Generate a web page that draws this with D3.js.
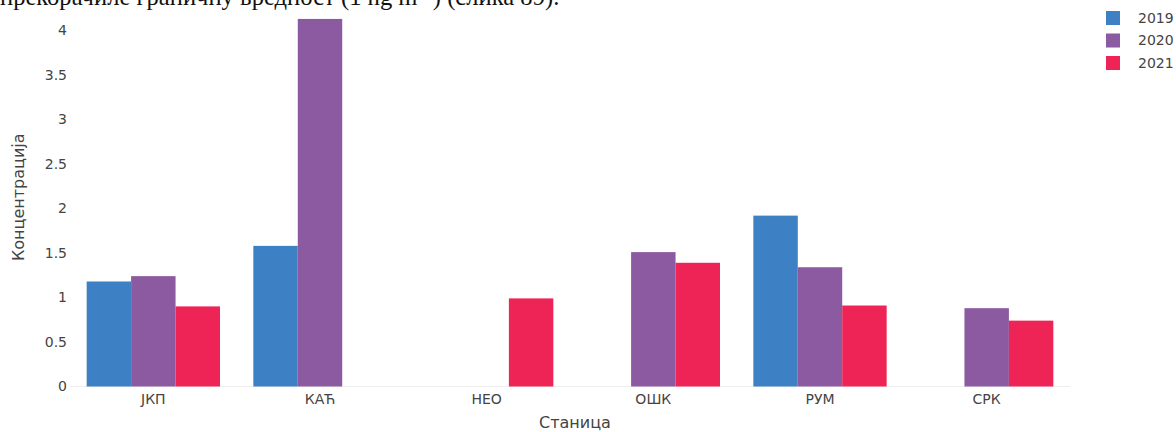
<!DOCTYPE html>
<meta charset="utf-8">
<style>
  body { margin: 0; background: white; }
  .tick text { font-family: "DejaVu Sans", sans-serif; font-size: 14px; fill: #444; }
  .axis-title { font-family: "DejaVu Sans", sans-serif; font-size: 16px; fill: #444; }
  .legend text { font-family: "DejaVu Sans", sans-serif; font-size: 14px; fill: #444; }
  .doc-text { font-family: "Liberation Serif", serif; font-size: 24.6px; fill: #111; }
</style>
<script src="https://d3js.org/d3.v7.min.js"></script>
<div id="my_dataviz"></div>
<script>

// data
const stations = ["ЈКП", "КАЋ", "НЕО", "ОШК", "РУМ", "СРК"];
const years = ["2019", "2020", "2021"];
const colors = ["#3d81c4", "#8b5aa0", "#ee2457"];
const v2019 = [1.18, 1.58, null, null, 1.92, null];
const v2020 = [1.24, 4.13, null, 1.51, 1.34, 0.88];
const v2021 = [0.90, null, 0.99, 1.39, 0.91, 0.74];
const yTicks = [0, 0.5, 1, 1.5, 2, 2.5, 3, 3.5, 4];

const series = [v2019, v2020, v2021];

const W = 1176, H = 432;
const margin = {top: 30, right: 106, bottom: 45.5, left: 70};
const width = W - margin.left - margin.right,
      height = H - margin.top - margin.bottom;

const root = d3.select("#my_dataviz")
  .append("svg")
    .attr("width", W)
    .attr("height", H);

// cut-off line of text from the document above the chart
root.append("text")
  .attr("class", "doc-text")
  .attr("x", 0)
  .attr("y", 5)
  .text("прекорачиле граничну вредност (1 ng m⁻³) (слика 89).");

const svg = root.append("g")
  .attr("transform", `translate(${margin.left},${margin.top})`);

const x = d3.scaleBand()
  .domain(stations)
  .range([0, width])
  .paddingInner(0.2)
  .paddingOuter(0.1);

const xSub = d3.scaleBand()
  .domain(years)
  .range([0, x.bandwidth()]);

const y = d3.scaleLinear()
  .domain([0, 4])
  .range([height, height - 4 * 89]);

// zero line
svg.append("line")
  .attr("x1", 0).attr("x2", width)
  .attr("y1", y(0)).attr("y2", y(0))
  .attr("stroke", "#eee")
  .attr("stroke-width", 1);

// bars
years.forEach((yr, i) => {
  const rows = stations.map((s, j) => ({station: s, value: series[i][j]}))
    .filter(d => d.value != null);
  svg.append("g")
    .selectAll("rect")
    .data(rows)
    .join("rect")
      .attr("x", d => x(d.station) + xSub(yr))
      .attr("y", d => y(d.value))
      .attr("width", xSub.bandwidth())
      .attr("height", d => y(0) - y(d.value))
      .attr("fill", colors[i]);
});

// axes
const xAxis = svg.append("g")
  .attr("transform", `translate(0,${height})`)
  .call(d3.axisBottom(x).tickSize(0).tickPadding(8));
xAxis.select(".domain").remove();

const yAxis = svg.append("g")
  .call(d3.axisLeft(y).tickValues(yTicks).tickFormat(d3.format("")).tickSize(0).tickPadding(3));
yAxis.select(".domain").remove();
yAxis.selectAll(".tick text").attr("dy", "0.32em");

// axis titles
svg.append("text")
  .attr("class", "axis-title")
  .attr("text-anchor", "middle")
  .attr("x", width / 2 + 5)
  .attr("y", height + 41)
  .text("Станица");

svg.append("text")
  .attr("class", "axis-title")
  .attr("text-anchor", "middle")
  .attr("transform", "rotate(-90)")
  .attr("x", -(height / 2) + 11)
  .attr("y", -margin.left + 24)
  .text("Концентрација");

// legend
const legend = root.append("g")
  .attr("class", "legend")
  .attr("transform", "translate(1106,11)");

years.forEach((yr, i) => {
  const g = legend.append("g").attr("transform", `translate(0,${i * 22.5})`);
  g.append("rect")
    .attr("width", 14).attr("height", 14)
    .attr("fill", colors[i]);
  g.append("text")
    .attr("x", 32)
    .attr("y", 7)
    .attr("dy", "0.35em")
    .text(yr);
});

</script>
</html>
